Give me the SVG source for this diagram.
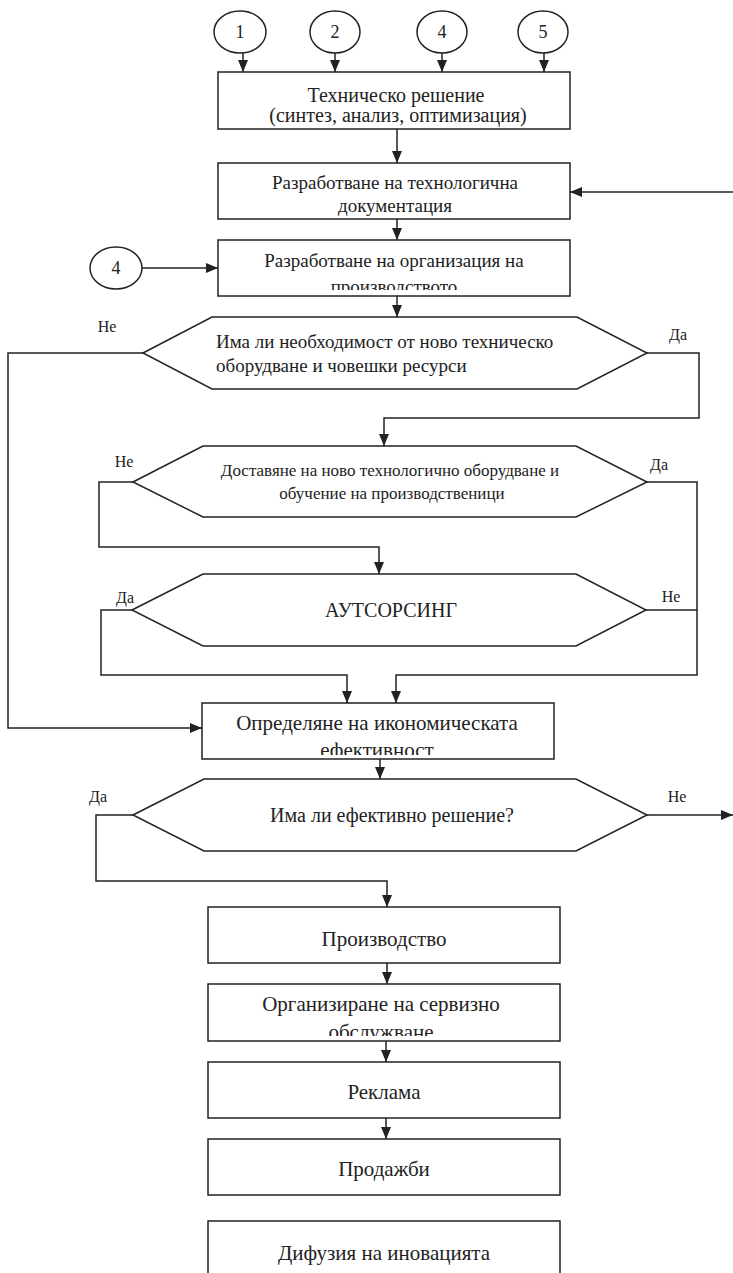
<svg xmlns="http://www.w3.org/2000/svg" width="733" height="1273" viewBox="0 0 733 1273">
<style>
.n{fill:#fff;stroke:#222;stroke-width:1.5}
.c{fill:none;stroke:#222;stroke-width:1.5}
text{font-family:"Liberation Serif","Times New Roman",serif;fill:#222;text-anchor:middle}
.f17{font-size:17px}
.f19{font-size:19px}
.f20{font-size:20px}
.f21{font-size:21px}
.s{font-size:18px}
.l{font-size:16px}
.st{text-anchor:start}
</style>
<defs>
<marker id="ah" markerUnits="userSpaceOnUse" markerWidth="12" markerHeight="12" viewBox="0 0 12 12" refX="12" refY="6" orient="auto">
<path d="M0,1 L12,6 L0,11 Z" fill="#222"/>
</marker>
<clipPath id="cb3"><rect x="218" y="240" width="352" height="50"/></clipPath>
<clipPath id="cb5"><rect x="202" y="703" width="352" height="52"/></clipPath>
<clipPath id="cb7"><rect x="208" y="984" width="352" height="52"/></clipPath>
</defs>
<g id="connectors">
<line class="c" x1="243" y1="53" x2="243" y2="72" marker-end="url(#ah)"/>
<line class="c" x1="335" y1="53" x2="335" y2="72" marker-end="url(#ah)"/>
<line class="c" x1="442" y1="53" x2="442" y2="72" marker-end="url(#ah)"/>
<line class="c" x1="544" y1="53" x2="544" y2="72" marker-end="url(#ah)"/>
<line class="c" x1="397" y1="129" x2="397" y2="163" marker-end="url(#ah)"/>
<line class="c" x1="733" y1="192" x2="570" y2="192" marker-end="url(#ah)"/>
<line class="c" x1="397" y1="219" x2="397" y2="240" marker-end="url(#ah)"/>
<line class="c" x1="142" y1="268" x2="218" y2="268" marker-end="url(#ah)"/>
<line class="c" x1="397" y1="296" x2="397" y2="317" marker-end="url(#ah)"/>
<polyline class="c" points="143,353 8,353 8,728 202,728" marker-end="url(#ah)"/>
<polyline class="c" points="647,353 699,353 699,418 384,418 384,446" marker-end="url(#ah)"/>
<polyline class="c" points="133,482 99,482 99,547 379,547 379,574" marker-end="url(#ah)"/>
<polyline class="c" points="647,482 697,482 697,675 396,675 396,703" marker-end="url(#ah)"/>
<line class="c" x1="646" y1="610" x2="697" y2="610"/>
<polyline class="c" points="132,610 101,610 101,675 347,675 347,703" marker-end="url(#ah)"/>
<line class="c" x1="380" y1="759" x2="380" y2="779" marker-end="url(#ah)"/>
<line class="c" x1="647" y1="815" x2="733" y2="815" marker-end="url(#ah)"/>
<polyline class="c" points="133,815 96,815 96,881 387,881 387,907" marker-end="url(#ah)"/>
<line class="c" x1="387" y1="963" x2="387" y2="984" marker-end="url(#ah)"/>
<line class="c" x1="386" y1="1041" x2="386" y2="1062" marker-end="url(#ah)"/>
<line class="c" x1="386" y1="1118" x2="386" y2="1139" marker-end="url(#ah)"/>
</g>
<g id="c1"><ellipse class="n" cx="240" cy="32" rx="26" ry="21"/><text class="s" x="240" y="38">1</text></g>
<g id="c2"><ellipse class="n" cx="335" cy="32" rx="25" ry="21"/><text class="s" x="335" y="38">2</text></g>
<g id="c4"><ellipse class="n" cx="442" cy="32" rx="25" ry="21"/><text class="s" x="442" y="38">4</text></g>
<g id="c5"><ellipse class="n" cx="543" cy="32" rx="25" ry="21"/><text class="s" x="543" y="38">5</text></g>
<g id="c4b"><ellipse class="n" cx="116" cy="268" rx="26" ry="21"/><text class="s" x="116" y="274">4</text></g>
<g id="b1"><rect class="n" x="218" y="72" width="352" height="57"/>
<text class="f20" x="396" y="102">Техническо решение</text>
<text class="f20" x="398" y="122">(синтез, анализ, оптимизация)</text></g>
<g id="b2"><rect class="n" x="218" y="163" width="352" height="56"/>
<text class="f19" x="395" y="189">Разработване на технологична</text>
<text class="f19" x="395" y="212">документация</text></g>
<g id="b3"><rect class="n" x="218" y="240" width="352" height="56"/>
<g clip-path="url(#cb3)"><text class="f19" x="394" y="267">Разработване на организация на</text>
<text class="f19" x="394" y="293">производството</text></g></g>
<g id="d1"><polygon class="n" points="143,353 212,317 577,317 647,353 577,389 212,389"/>
<text class="f19 st" x="216" y="348">Има ли необходимост от ново техническо</text>
<text class="f19 st" x="216" y="372">оборудване и човешки ресурси</text>
<text class="l" x="107" y="332">Не</text><text class="l" x="678" y="340">Да</text></g>
<g id="d2"><polygon class="n" points="133,482 203,446 576,446 647,482 576,517 203,517"/>
<text class="f17" x="390" y="476">Доставяне на ново технологично оборудване и</text>
<text class="f17" x="392" y="499">обучение на производственици</text>
<text class="l" x="124" y="467">Не</text><text class="l" x="659" y="470">Да</text></g>
<g id="d3"><polygon class="n" points="132,610 203,574 576,574 646,610 576,646 203,646"/>
<text class="f20" x="391" y="617">АУТСОРСИНГ</text>
<text class="l" x="125" y="603">Да</text><text class="l" x="671" y="602">Не</text></g>
<g id="b4"><rect class="n" x="202" y="703" width="352" height="56"/>
<g clip-path="url(#cb5)"><text class="f21" x="377" y="730">Определяне на икономическата</text>
<text class="f21" x="377" y="757">ефективност</text></g></g>
<g id="d4"><polygon class="n" points="133,815 204,779 576,779 647,815 576,851 204,851"/>
<text class="f20" x="392" y="822">Има ли ефективно решение?</text>
<text class="l" x="98" y="802">Да</text><text class="l" x="677" y="802">Не</text></g>
<g id="b5"><rect class="n" x="208" y="907" width="352" height="56"/><text class="f21" x="384" y="946">Производство</text></g>
<g id="b6"><rect class="n" x="208" y="984" width="352" height="57"/>
<g clip-path="url(#cb7)"><text class="f21" x="381" y="1011">Организиране на сервизно</text>
<text class="f21" x="381" y="1039">обслужване</text></g></g>
<g id="b7"><rect class="n" x="208" y="1062" width="352" height="56"/><text class="f21" x="384" y="1099">Реклама</text></g>
<g id="b8"><rect class="n" x="208" y="1139" width="352" height="56"/><text class="f21" x="384" y="1176">Продажби</text></g>
<g id="b9"><rect class="n" x="208" y="1221" width="352" height="60"/><text class="f21" x="384" y="1260">Дифузия на иновацията</text></g>
</svg>
